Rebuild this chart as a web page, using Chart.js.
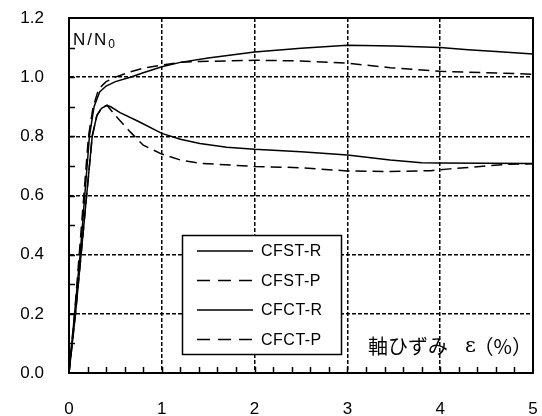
<!DOCTYPE html>
<html>
<head>
<meta charset="utf-8">
<script src="https://cdn.jsdelivr.net/npm/chart.js@4.4.1/dist/chart.umd.min.js"></script>
<style>
html,body{margin:0;padding:0;background:#fff;}
#c{display:block;}
</style>
</head>
<body>
<canvas id="c" width="542" height="416"></canvas>
<script>
// ---- data (axial strain %, N/N0) ----
const seriesLabels = ['CFST-R', 'CFST-P', 'CFCT-R', 'CFCT-P'];
const cfstR_x = [0, 0.06, 0.12, 0.17, 0.22, 0.27, 0.33, 0.40, 0.50, 0.66, 0.80, 1.00, 1.20, 1.50, 2.00, 2.50, 3.00, 3.50, 4.00, 4.30, 4.60, 5.00];
const cfstR_y = [0, 0.20, 0.40, 0.60, 0.80, 0.90, 0.950, 0.970, 0.985, 1.000, 1.015, 1.035, 1.050, 1.065, 1.085, 1.098, 1.108, 1.105, 1.100, 1.093, 1.087, 1.078];
const cfstP_x = [0, 0.06, 0.11, 0.16, 0.21, 0.26, 0.32, 0.40, 0.50, 0.66, 0.80, 1.00, 1.20, 1.41, 2.00, 2.50, 3.00, 3.46, 4.00, 4.50, 5.00];
const cfstP_y = [0, 0.20, 0.40, 0.60, 0.80, 0.90, 0.960, 0.985, 1.000, 1.018, 1.030, 1.041, 1.050, 1.053, 1.057, 1.055, 1.047, 1.032, 1.020, 1.015, 1.010];
const cfctR_x = [0, 0.07, 0.13, 0.19, 0.25, 0.30, 0.35, 0.41, 0.45, 0.55, 0.75, 1.00, 1.20, 1.41, 1.70, 2.00, 2.50, 3.00, 3.46, 3.80, 4.00, 5.00];
const cfctR_y = [0, 0.20, 0.40, 0.60, 0.80, 0.870, 0.895, 0.905, 0.900, 0.880, 0.850, 0.810, 0.790, 0.776, 0.763, 0.756, 0.748, 0.737, 0.720, 0.711, 0.710, 0.708];
const cfctP_x = [0, 0.07, 0.13, 0.19, 0.25, 0.30, 0.36, 0.41, 0.50, 0.66, 0.80, 1.00, 1.20, 1.41, 2.00, 2.50, 3.00, 3.46, 3.90, 4.10, 4.43, 4.75, 5.00];
const cfctP_y = [0, 0.20, 0.40, 0.60, 0.80, 0.870, 0.900, 0.905, 0.870, 0.815, 0.770, 0.740, 0.720, 0.709, 0.698, 0.694, 0.683, 0.681, 0.684, 0.690, 0.698, 0.706, 0.707];
const xTicks = [0, 1, 2, 3, 4, 5];
const yTicks = [0, 0.2, 0.4, 0.6, 0.8, 1.0, 1.2];
const yTitle = 'N/N';
const yTitleSub = '0';
const xTitleParts = ['軸ひずみ', 'ε', '（%）'];

const zip = (xs, ys) => xs.map((x, i) => ({x: x, y: ys[i]}));
const SOLID = [];
const DASH = [11, 6];

const mk = (label, xs, ys, dash) => ({
  label: label, data: zip(xs, ys), borderColor: '#000', backgroundColor: '#000',
  borderWidth: 1.5, borderDash: dash, pointRadius: 0, tension: 0, fill: false
});

const framePlugin = {
  id: 'frame',
  afterDatasetsDraw(chart) {
    const {ctx, chartArea: a, scales: {x, y}} = chart;
    ctx.save();
    ctx.strokeStyle = '#000';
    // minor ticks
    ctx.lineWidth = 1.5;
    ctx.beginPath();
    for (let v = 0.2; v < 5; v += 0.2) {
      const px = Math.round(x.getPixelForValue(v)) + 0.5;
      ctx.moveTo(px, a.bottom); ctx.lineTo(px, a.bottom - 6);
    }
    for (let v = 0.1; v < 1.2; v += 0.1) {
      const py = Math.round(y.getPixelForValue(v)) + 0.5;
      ctx.moveTo(a.left, py); ctx.lineTo(a.left + 6, py);
    }
    ctx.stroke();
    // frame
    ctx.lineWidth = 2;
    ctx.strokeRect(a.left, a.top, a.right - a.left, a.bottom - a.top);
    // y title inside plot
    ctx.fillStyle = '#000';
    ctx.textBaseline = 'alphabetic';
    ctx.textAlign = 'left';
    ctx.font = '17px "Liberation Sans", Arial, sans-serif';
    ctx.letterSpacing = '2px';
    ctx.fillText(yTitle, a.left + 4, a.top + 27);
    const w = ctx.measureText(yTitle).width;
    ctx.letterSpacing = '0px';
    ctx.font = '12px "Liberation Sans", Arial, sans-serif';
    ctx.fillText(yTitleSub, a.left + 4 + w, a.top + 30);
    // x title inside plot
    const ty = a.bottom - 27;
    ctx.textBaseline = 'middle';
    ctx.font = '20px "Noto Sans CJK JP", sans-serif';
    ctx.textAlign = 'left';
    ctx.fillText(xTitleParts[0], 368, ty);
    ctx.font = '21px "DejaVu Serif", serif';
    ctx.fillText(xTitleParts[1], 465, ty + 1);
    ctx.font = '20px "Noto Sans CJK JP", sans-serif';
    ctx.textAlign = 'right';
    ctx.fillText(xTitleParts[2], a.right - 1, ty);
    // legend
    const bx = 182, by = 235, bw = 159, bh = 119;
    ctx.fillStyle = '#fff';
    ctx.fillRect(bx, by, bw, bh);
    ctx.lineWidth = 1.5;
    ctx.strokeRect(bx + 0.5, by + 0.5, bw, bh);
    const rows = [251, 280.5, 310, 339.5];
    chart.data.datasets.forEach((ds, i) => {
      const ry = rows[i];
      ctx.beginPath();
      ctx.lineWidth = 1.5;
      ctx.setLineDash(ds.borderDash && ds.borderDash.length ? [13, 8] : []);
      ctx.moveTo(197, ry); ctx.lineTo(253, ry);
      ctx.stroke();
      ctx.setLineDash([]);
      ctx.fillStyle = '#000';
      ctx.textAlign = 'left';
      ctx.textBaseline = 'middle';
      ctx.font = '16px "Liberation Sans", Arial, sans-serif';
      ctx.letterSpacing = '0.5px';
      ctx.fillText(ds.label, 261, ry + 1);
      ctx.letterSpacing = '0px';
    });
    ctx.restore();
  }
};

const zeroPad = s => { s.paddingLeft = 0; s.paddingRight = 0; s.paddingTop = 0; s.paddingBottom = 0; };

new Chart(document.getElementById('c'), {
  type: 'line',
  data: {
    datasets: [
      mk(seriesLabels[0], cfstR_x, cfstR_y, SOLID),
      mk(seriesLabels[1], cfstP_x, cfstP_y, DASH),
      mk(seriesLabels[2], cfctR_x, cfctR_y, SOLID),
      mk(seriesLabels[3], cfctP_x, cfctP_y, DASH)
    ]
  },
  options: {
    responsive: false,
    animation: false,
    devicePixelRatio: 1,
    layout: {padding: {top: 18, right: 9, left: 0, bottom: 0}},
    plugins: {legend: {display: false}, tooltip: {enabled: false}},
    scales: {
      x: {
        type: 'linear', min: 0, max: 5,
        afterBuildTicks: s => { s.ticks = xTicks.map(v => ({value: v})); },
        afterFit: s => { s.height = 43; zeroPad(s); },
        ticks: {color: '#000', font: {size: 17, family: '"Liberation Sans", Arial, sans-serif'}, padding: 26, maxRotation: 0,
                callback: v => String(v)},
        grid: {color: '#000', lineWidth: 1.5, drawTicks: false},
        border: {display: true, color: '#000', width: 2, dash: [4, 2]}
      },
      y: {
        type: 'linear', min: 0, max: 1.2,
        afterBuildTicks: s => { s.ticks = yTicks.map(v => ({value: v})); },
        afterFit: s => { s.width = 69; zeroPad(s); },
        ticks: {color: '#000', font: {size: 17, family: '"Liberation Sans", Arial, sans-serif'}, padding: 25,
                callback: v => Number(v).toFixed(1)},
        grid: {color: '#000', lineWidth: 1.5, drawTicks: false},
        border: {display: true, color: '#000', width: 2, dash: [4, 2]}
      }
    }
  },
  plugins: [framePlugin]
});
</script>
</body>
</html>
